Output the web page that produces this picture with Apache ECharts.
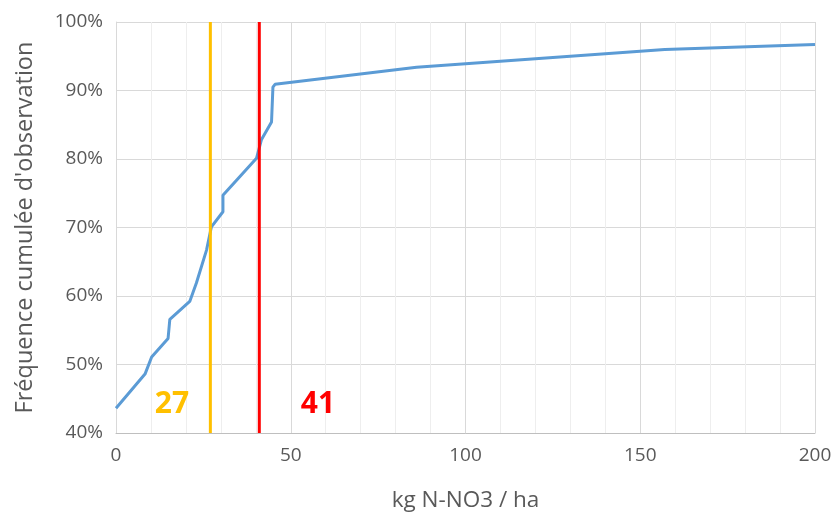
<!DOCTYPE html>
<html><head><meta charset="utf-8">
<script src="https://cdn.jsdelivr.net/npm/echarts@6/dist/echarts.min.js"></script>
<style>html,body{margin:0;padding:0;background:#fff}#c{width:837px;height:517px}</style>
</head><body><div id="c"></div>
<script>
const xValues = [0, 8.3, 10.2, 14.9, 15.4, 21.1, 23, 25.9, 27.3, 30.6, 30.6, 40.2, 41.6, 44.5, 44.9, 45.5, 86, 157, 200];
const yValues = [43.6, 48.6, 51.1, 53.8, 56.6, 59.2, 61.9, 66.7, 70.1, 72.3, 74.7, 80.1, 82.8, 85.4, 90.5, 90.9, 93.4, 96.0, 96.7];
const thresholds = [27, 41];
const thresholdColors = ['#FFC000', '#FF0000'];
const thresholdLabelX = [16, 57.8];
const thresholdLabelY = 44.2;
const xTicks = [0, 50, 100, 150, 200];
const yTicks = [40, 50, 60, 70, 80, 90, 100];

const font = "'Open Sans', 'Liberation Sans', sans-serif";
const curve = xValues.map((x, i) => [x, yValues[i]]);
const series = [{
  type: 'line', data: curve, symbol: 'none', z: 3,
  lineStyle: { color: '#5B9BD5', width: 3 }
}];
thresholds.forEach((t, i) => {
  series.push({
    type: 'line', data: [[t, yTicks[0]], [t, yTicks[yTicks.length - 1]]], symbol: 'none', z: 4,
    lineStyle: { color: thresholdColors[i], width: 3 }
  });
  series.push({
    type: 'scatter', data: [[thresholdLabelX[i], thresholdLabelY]], symbolSize: 0, z: 5,
    itemStyle: { opacity: 1, color: thresholdColors[i] },
    label: { show: true, position: 'inside', formatter: String(t), color: thresholdColors[i],
      fontSize: 30, fontWeight: 'bold', fontFamily: font }
  });
});
const chart = echarts.init(document.getElementById('c'));
chart.setOption({
  animation: false,
  grid: { left: 116, right: 22, top: 22, bottom: 84 },
  xAxis: {
    type: 'value', min: xTicks[0], max: xTicks[xTicks.length - 1], interval: 50,
    name: 'kg N-NO3 / ha', nameLocation: 'middle', nameGap: 56,
    nameTextStyle: { color: '#595959', fontSize: 22.5, fontFamily: font },
    axisLine: { show: true, lineStyle: { color: '#BFBFBF' } },
    axisTick: { show: false },
    axisLabel: { color: '#595959', fontSize: 19, fontFamily: font, margin: 13 },
    splitLine: { show: true, lineStyle: { color: '#D9D9D9' } },
    minorTick: { show: false, splitNumber: 5 },
    minorSplitLine: { show: true, lineStyle: { color: '#EEEEEE' } }
  },
  yAxis: {
    type: 'value', min: yTicks[0], max: yTicks[yTicks.length - 1], interval: 10,
    name: "Fréquence cumulée d'observation", nameLocation: 'middle', nameGap: 79,
    nameTextStyle: { color: '#595959', fontSize: 23.5, fontFamily: font },
    axisLine: { show: true, lineStyle: { color: '#D9D9D9' } },
    axisTick: { show: false },
    axisLabel: { color: '#595959', fontSize: 19, fontFamily: font, margin: 13, formatter: v => v + '%' },
    splitLine: { show: true, lineStyle: { color: '#D9D9D9' } }
  },
  series: series
});
</script></body></html>
